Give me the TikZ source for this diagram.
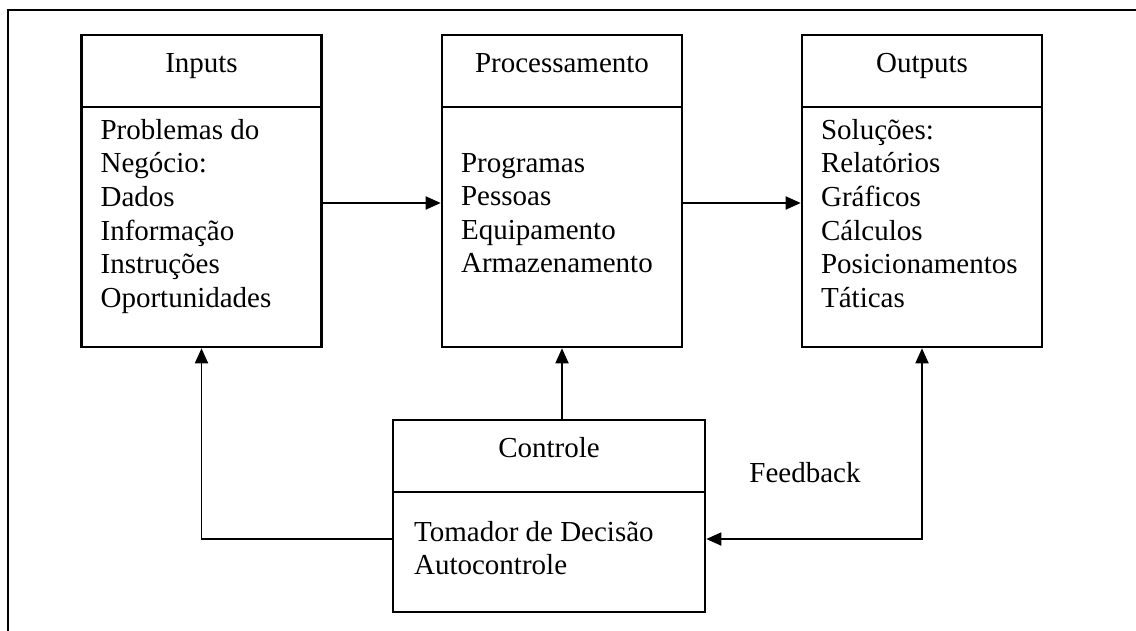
\documentclass[tikz,border=0pt]{standalone}
\usepackage{fontspec}
\setmainfont{Liberation Serif}
\usetikzlibrary{arrows.meta}
\begin{document}
\begin{tikzpicture}[x=0.5pt,y=-0.5pt,
  every node/.style={font=\fontsize{14.5}{16.8}\selectfont},
  headtip/.tip={Triangle[length=7.5pt,width=6.5pt]},
  boxpart/.style={draw, line width=1.3pt, inner sep=0pt, minimum width=120pt},
  header/.style={boxpart, minimum height=36pt, text height=0.7em, text depth=0.55em},
  body/.style={boxpart, minimum height=120pt},
  ctlheader/.style={header, minimum width=156pt},
  ctlbody/.style={boxpart, minimum width=156pt, minimum height=60pt},
  items/.style={anchor=north west, align=left, inner sep=0pt},
  link/.style={line width=0.9pt, -headtip},
  twoway/.style={line width=0.9pt, headtip-headtip},
  frame/.style={line width=1.1pt}]
  \useasboundingbox (0,0) rectangle (1136,631);

  % open frame: only the top and left edges fall inside the page
  \draw[frame] (8,650) -- (8,10) -- (1150,10);

  % Inputs
  \node[header] (inH) at (201.5,71) {Inputs};
  \node[body]   (inB) at (201.5,227) {};
  \node[items]  (inT) at ([xshift=10pt,yshift=-6.5pt]inB.north west)
    {Problemas do\\Negócio:\\Dados\\Informação\\Instruções\\Oportunidades};

  % Processamento
  \node[header] (prH) at (562,71) {Processamento};
  \node[body]   (prB) at (562,227) {};
  \node[items]  (prT) at ([xshift=10pt,yshift=-23.5pt]prB.north west)
    {Programas\\Pessoas\\Equipamento\\Armazenamento};

  % Outputs
  \node[header] (outH) at (922,71) {Outputs};
  \node[body]   (outB) at (922,227) {};
  \node[items]  (outT) at ([xshift=10pt,yshift=-6.5pt]outB.north west)
    {Soluções:\\Relatórios\\Gráficos\\Cálculos\\Posicionamentos\\Táticas};

  % Controle
  \node[ctlheader] (ctlH) at (549,456) {Controle};
  \node[ctlbody]   (ctlB) at (549,552) {};
  \node[items]     (ctlT) at ([xshift=11pt,yshift=-15pt]ctlB.north west)
    {Tomador de Decisão\\Autocontrole};

  \node[anchor=base west, inner sep=0pt] (fb) at (749,482) {Feedback};

  % flow between the stages
  \draw[link] ([yshift=12pt]inB.east) -- ([yshift=12pt]prB.west);
  \draw[link] ([yshift=12pt]prB.east) -- ([yshift=12pt]outB.west);
  \draw[link] (ctlH.north -| prB.south) -- (prB.south);
  \draw[link] ([yshift=6.5pt]ctlB.west) -| (inB.south);
  \draw[twoway] ([yshift=6.5pt]ctlB.east) -| (outB.south);
\end{tikzpicture}
\end{document}
